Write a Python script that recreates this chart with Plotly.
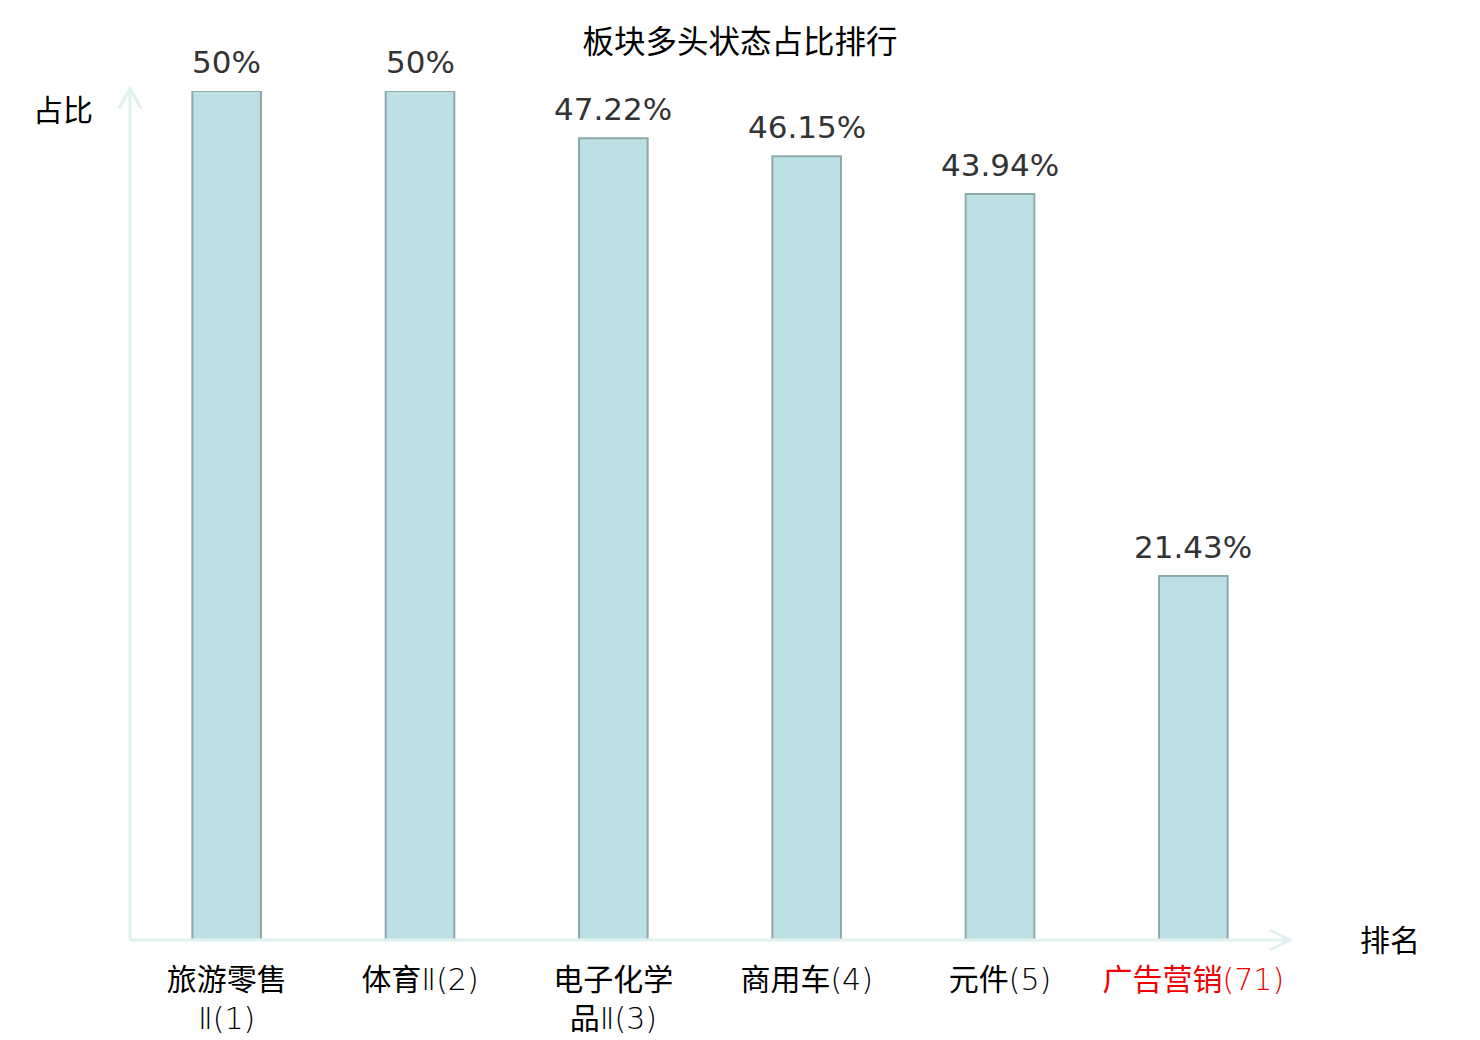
import re
import plotly.graph_objects as go

# 数据
names = ["旅游零售", "体育", "电子化学", "商用车", "元件", "广告营销"]
name_suffix = ["<br>Ⅱ", "Ⅱ", "<br>品Ⅱ", "", "", ""]
ranks = [1, 2, 3, 4, 5, 71]
values = [50, 50, 47.22, 46.15, 43.94, 21.43]
value_labels = ["50%", "50%", "47.22%", "46.15%", "43.94%", "21.43%"]

FONT = "DejaVu Sans, Noto Sans CJK SC, sans-serif"
AXIS_COLOR = "#dff2ef"


def make_tick(name, suffix, rank, highlight):
    # 罗马数字和括号里的排名用细体
    txt = f"{name}{suffix}({rank})"
    txt = re.sub(r"(Ⅱ?\(\d+\))", r"<span style='font-weight:200'>\1</span>", txt)
    if highlight:
        txt = f"<span style='color:#ee0000'>{txt}</span>"
    return txt


x_idx = list(range(len(names)))
tick_text = [make_tick(n, s, r, i == len(names) - 1)
             for i, (n, s, r) in enumerate(zip(names, name_suffix, ranks))]

fig = go.Figure()
fig.add_trace(go.Bar(
    x=x_idx,
    y=values,
    width=0.355,
    cliponaxis=False,
    hoverinfo="skip",
    marker=dict(color="#bce0e3", line=dict(color="#8fa9ab", width=2)),
))

for xi, v, lab in zip(x_idx, values, value_labels):
    fig.add_annotation(x=xi, y=v, text=lab, showarrow=False, yanchor="bottom", yshift=9,
                       font=dict(size=31, color="#333333", family=FONT))

fig.update_layout(
    width=1480, height=1040,
    margin=dict(l=122, r=198, t=83, b=108),
    plot_bgcolor="white", paper_bgcolor="white",
    showlegend=False,
    font=dict(family=FONT, color="#000000"),
    title=dict(text="板块多头状态占比排行", x=0.4946, xanchor="center", y=0.967, yanchor="middle",
               automargin=False,
               font=dict(size=31.5, color="#000000", family=FONT)),
    xaxis=dict(range=[-0.5, len(names) - 0.5], tickmode="array", tickvals=x_idx,
               ticktext=tick_text, showgrid=False, zeroline=False, showline=False,
               ticks="", ticklabelstandoff=19, automargin=False,
               tickfont=dict(size=30, color="#000000", family=FONT)),
    yaxis=dict(range=[0, 50], showgrid=False, zeroline=False, showline=False,
               showticklabels=False, ticks="", automargin=False),
)

# 坐标轴线与箭头
fig.add_shape(type="line", xref="paper", yref="paper", x0=0, x1=1, y0=0, y1=0,
              line=dict(color=AXIS_COLOR, width=3))
fig.add_shape(type="line", xref="paper", yref="paper", x0=0, x1=0, y0=0, y1=1.003,
              line=dict(color=AXIS_COLOR, width=3))
fig.add_shape(type="path", xref="paper", yref="paper", xsizemode="pixel", ysizemode="pixel",
              xanchor=1, yanchor=0, path="M -20 10 L 0 0 L -20 -10",
              line=dict(color=AXIS_COLOR, width=3))
fig.add_shape(type="path", xref="paper", yref="paper", xsizemode="pixel", ysizemode="pixel",
              xanchor=0, yanchor=1.003, path="M -11 -20 L 0 0 L 11 -20",
              line=dict(color=AXIS_COLOR, width=3))

fig.add_annotation(text="占比", xref="paper", yref="paper", x=-0.0578, y=0.9776,
                   xanchor="center", yanchor="middle",
                   showarrow=False, font=dict(size=30, color="#000000", family=FONT))
fig.add_annotation(text="排名", xref="paper", yref="paper", x=1.0, xshift=100, y=0.0,
                   xanchor="center", yanchor="middle",
                   showarrow=False, font=dict(size=30, color="#000000", family=FONT))

fig.write_html("out.html")
